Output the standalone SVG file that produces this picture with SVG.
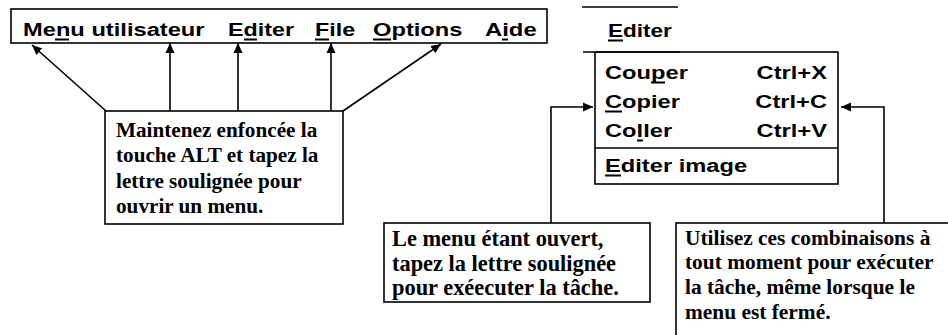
<svg xmlns="http://www.w3.org/2000/svg" width="948" height="335" viewBox="0 0 948 335">
<style>
.box{fill:#fff;stroke:#000;stroke-width:1.6}
.ln{fill:none;stroke:#000;stroke-width:1.6}
.sans{font-family:"Liberation Sans",Arial,sans-serif;font-weight:bold;font-size:18.8px;fill:#000}
.serif{font-family:"Liberation Serif","Times New Roman",serif;font-weight:bold;fill:#000}
.ul{fill:#000}
</style>
<defs>
<marker id="ah" viewBox="0 0 10 10" refX="10" refY="5" markerWidth="10" markerHeight="10" markerUnits="userSpaceOnUse" orient="auto">
<path d="M0,0.5 L10,5 L0,9.5 z" fill="#000"/>
</marker>
</defs>

<g id="menubar">
<rect class="box" x="11" y="9" width="536" height="34" stroke-width="2"/>
<text class="sans" transform="matrix(1.26,0,0,1,23,36)">Menu utilisateur</text>
<rect class="ul" x="55" y="38.5" width="14" height="2"/>
<text class="sans" transform="matrix(1.24,0,0,1,228,36)">Editer</text>
<rect class="ul" x="244" y="38.5" width="13" height="2"/>
<text class="sans" transform="matrix(1.24,0,0,1,315,36)">File</text>
<rect class="ul" x="315" y="38.5" width="14" height="2"/>
<text class="sans" transform="matrix(1.26,0,0,1,373,36)">Options</text>
<rect class="ul" x="373" y="38.5" width="18" height="2"/>
<text class="sans" transform="matrix(1.27,0,0,1,485,36)">Aide</text>
<rect class="ul" x="502" y="38.5" width="6" height="2"/>
</g>

<g id="editmenu">
<line class="ln" x1="582" y1="7" x2="678" y2="7"/>
<text class="sans" transform="matrix(1.2,0,0,1,608,37)">Editer</text>
<rect class="ul" x="608" y="39.5" width="15" height="2"/>
<rect class="box" x="595" y="52" width="243" height="132"/>
<line class="ln" x1="583" y1="52" x2="680" y2="52" stroke-width="2.2"/>
<line class="ln" x1="595" y1="148" x2="838" y2="148"/>
<text class="sans" transform="matrix(1.26,0,0,1,605,79)">Couper</text>
<rect class="ul" x="651" y="81.5" width="14" height="2"/>
<text class="sans" text-anchor="end" transform="matrix(1.26,0,0,1,827,79)">Ctrl+X</text>
<text class="sans" transform="matrix(1.26,0,0,1,605,108)">Copier</text>
<rect class="ul" x="605" y="110.5" width="17" height="2"/>
<text class="sans" text-anchor="end" transform="matrix(1.26,0,0,1,827,108)">Ctrl+C</text>
<text class="sans" transform="matrix(1.26,0,0,1,605,137)">Coller</text>
<rect class="ul" x="637" y="139.5" width="6" height="2"/>
<text class="sans" text-anchor="end" transform="matrix(1.26,0,0,1,827,137)">Ctrl+V</text>
<text class="sans" transform="matrix(1.26,0,0,1,605,172)">Editer image</text>
<rect class="ul" x="605" y="174.5" width="16" height="2"/>
</g>

<g id="callout1">
<rect class="box" x="105" y="111" width="238" height="113"/>
<text class="serif" font-size="21.2">
<tspan x="116" y="137">Maintenez enfoncée la</tspan>
<tspan x="116" y="162">touche ALT et tapez la</tspan>
<tspan x="116" y="188">lettre soulignée pour</tspan>
<tspan x="116" y="213">ouvrir un menu.</tspan>
</text>
</g>

<g id="callout2">
<rect class="box" x="384" y="223" width="266" height="79"/>
<text class="serif" font-size="22.4">
<tspan x="392" y="246">Le menu étant ouvert,</tspan>
<tspan x="392" y="271">tapez la lettre soulignée</tspan>
<tspan x="392" y="295">pour exéecuter la tâche.</tspan>
</text>
</g>

<g id="callout3">
<rect class="box" x="676" y="223" width="300" height="150"/>
<text class="serif" font-size="21.4">
<tspan x="685" y="245">Utilisez ces combinaisons à</tspan>
<tspan x="685" y="269">tout moment pour exécuter</tspan>
<tspan x="685" y="294">la tâche, même lorsque le</tspan>
<tspan x="685" y="319">menu est fermé.</tspan>
</text>
</g>

<g id="connectors">
<line class="ln" x1="106" y1="111" x2="32" y2="45" marker-end="url(#ah)"/>
<line class="ln" x1="170" y1="111" x2="170" y2="43" marker-end="url(#ah)"/>
<line class="ln" x1="238" y1="111" x2="238" y2="43" marker-end="url(#ah)"/>
<line class="ln" x1="331" y1="111" x2="331" y2="43" marker-end="url(#ah)"/>
<line class="ln" x1="343" y1="111" x2="441" y2="44" marker-end="url(#ah)"/>
<polyline class="ln" points="551,223 551,107 593,107" marker-end="url(#ah)"/>
<polyline class="ln" points="884,223 884,107 841,107" marker-end="url(#ah)"/>
</g>
</svg>
